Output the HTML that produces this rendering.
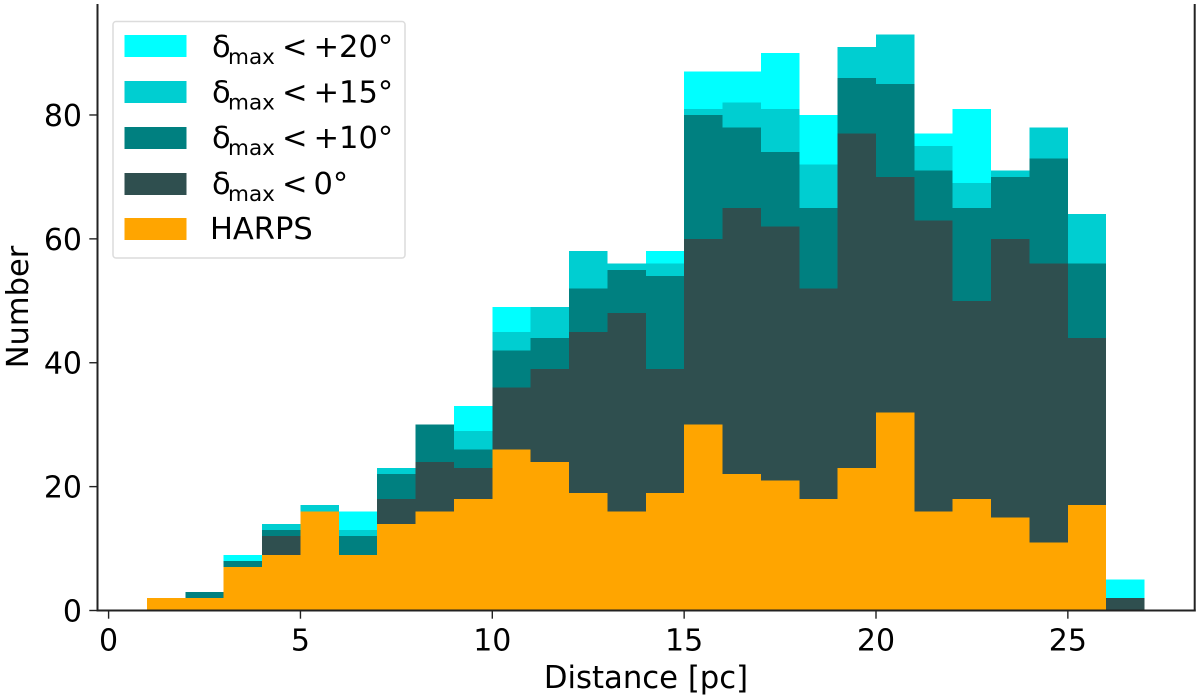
<!DOCTYPE html>
<html lang="en">
<head>
<meta charset="utf-8">
<title>Distance histogram</title>
<style>
  html, body { margin: 0; padding: 0; background: #fff; }
  svg { display: block; filter: blur(0.35px); }
  text { font-family: "DejaVu Sans", "Liberation Sans", sans-serif; fill: #000; }
</style>
</head>
<body>
<svg id="chart" xmlns="http://www.w3.org/2000/svg" width="1200" height="700" viewBox="0 0 1200 700">
  <rect width="1200" height="700" fill="#fff"/>
  <g id="bars" shape-rendering="crispEdges"></g>
  <g id="axes"></g>
  <text x="646" y="688" font-size="30.7" text-anchor="middle">Distance [pc]</text>
  <text transform="translate(28,307) rotate(-90)" font-size="30.5" text-anchor="middle">Number</text>

  <g>
    <rect x="113" y="21.5" width="292" height="236.5" rx="3" fill="#fff" stroke="#dcdcdc" stroke-width="1.5"/>
    <g>
      <rect x="124.5" y="35" width="62" height="22" fill="#00ffff"/>
      <text y="57" font-size="30.5"><tspan x="212">δ</tspan><tspan x="228" dy="7" font-size="21.5">max</tspan><tspan x="282" dy="-7">&lt;</tspan><tspan x="313.5">+20°</tspan></text>
    </g>
    <g>
      <rect x="124.5" y="81" width="62" height="22" fill="#00ced1"/>
      <text y="102.5" font-size="30.5"><tspan x="212">δ</tspan><tspan x="228" dy="7" font-size="21.5">max</tspan><tspan x="282" dy="-7">&lt;</tspan><tspan x="313.5">+15°</tspan></text>
    </g>
    <g>
      <rect x="124.5" y="127" width="62" height="22" fill="#008080"/>
      <text y="148" font-size="30.5"><tspan x="212">δ</tspan><tspan x="228" dy="7" font-size="21.5">max</tspan><tspan x="282" dy="-7">&lt;</tspan><tspan x="313.5">+10°</tspan></text>
    </g>
    <g>
      <rect x="124.5" y="173" width="62" height="22" fill="#2f4f4f"/>
      <text y="194" font-size="30.5"><tspan x="212">δ</tspan><tspan x="228" dy="7" font-size="21.5">max</tspan><tspan x="282" dy="-7">&lt;</tspan><tspan x="313.5">0°</tspan></text>
    </g>
    <g>
      <rect x="124.5" y="218" width="62" height="22" fill="#ffa500"/>
      <text x="210" y="239" font-size="30.5">HARPS</text>
    </g>
  </g>
</svg>
<script>
// Histogram bin left edges (pc); each bin is one parsec wide
const binEdges = [1,2,3,4,5,6,7,8,9,10,11,12,13,14,15,16,17,18,19,20,21,22,23,24,25,26];
const binWidth = 1;

// Counts per bin
const dec20Counts = [2,3,9,14,17,16,23,30,33,49,49,58,56,58,87,87,90,80,91,93,77,81,71,78,64,5];
const dec15Counts = [2,3,8,14,17,13,23,30,29,45,49,58,56,56,81,82,81,72,91,93,75,69,71,78,64,2];
const dec10Counts = [2,3,8,13,16,12,22,30,26,42,44,52,55,54,80,78,74,65,86,85,71,65,70,73,56,2];
const dec0Counts  = [2,2,7,12,16,9,18,24,23,36,39,45,48,39,60,65,62,52,77,70,63,50,60,56,44,2];
const harpsCounts = [2,2,7,9,16,9,14,16,18,26,24,19,16,19,30,22,21,18,23,32,16,18,15,11,17,0];

// Tick labels
const xTicks = [0,5,10,15,20,25];
const yTicks = [0,20,40,60,80];

// Axis functions
function xScale(v) { return 108.6 + v * 38.37; }
function yScale(v) { return 610.5 - v * 6.194; }

const SVG_NS = 'http://www.w3.org/2000/svg';
const barsGroup = document.getElementById('bars');
const axesGroup = document.getElementById('axes');

function drawSeries(counts, color, seriesName) {
  counts.forEach(function (count, i) {
    if (count <= 0) return;
    const bar = document.createElementNS(SVG_NS, 'rect');
    
    
    bar.setAttribute('x', xScale(binEdges[i]));
    bar.setAttribute('y', yScale(count));
    bar.setAttribute('width', xScale(binEdges[i] + binWidth) - xScale(binEdges[i]));
    bar.setAttribute('height', yScale(0) - yScale(count));
    bar.setAttribute('fill', color);
    barsGroup.appendChild(bar);
  });
}

drawSeries(dec20Counts, '#00ffff', 'dec-20');
drawSeries(dec15Counts, '#00ced1', 'dec-15');
drawSeries(dec10Counts, '#008080', 'dec-10');
drawSeries(dec0Counts, '#2f4f4f', 'dec-0');
drawSeries(harpsCounts, '#ffa500', 'harps');

function addLine(x1, y1, x2, y2, name, width) {
  const line = document.createElementNS(SVG_NS, 'line');
  
  
  line.setAttribute('x1', x1);
  line.setAttribute('y1', y1);
  line.setAttribute('x2', x2);
  line.setAttribute('y2', y2);
  line.setAttribute('stroke', '#222');
  line.setAttribute('stroke-width', width);
  line.setAttribute('stroke-linecap', 'square');
  axesGroup.appendChild(line);
}

function addTickLabel(x, y, label, anchor, name) {
  const t = document.createElementNS(SVG_NS, 'text');
  
  
  t.setAttribute('x', x);
  t.setAttribute('y', y);
  t.setAttribute('font-size', '30');
  t.setAttribute('text-anchor', anchor);
  t.textContent = label;
  axesGroup.appendChild(t);
}

addLine(97.5, 5, 97.5, 610.5, 'left-spine', 2);
addLine(97.5, 610.5, 1194.7, 610.5, 'bottom-spine', 2);
addLine(1194.7, 5, 1194.7, 610.5, 'right-spine', 2);

xTicks.forEach(function (v) {
  const x = xScale(v);
  addLine(x, 611, x, 618, 'x-tick-' + v, 1.4);
  addTickLabel(x, 650.5, String(v), 'middle', 'x-tick-label-' + v);
});

yTicks.forEach(function (v) {
  const y = yScale(v);
  addLine(90, y, 97, y, 'y-tick-' + v, 1.4);
  addTickLabel(82, y + 11, String(v), 'end', 'y-tick-label-' + v);
});
</script>
</body>
</html>
